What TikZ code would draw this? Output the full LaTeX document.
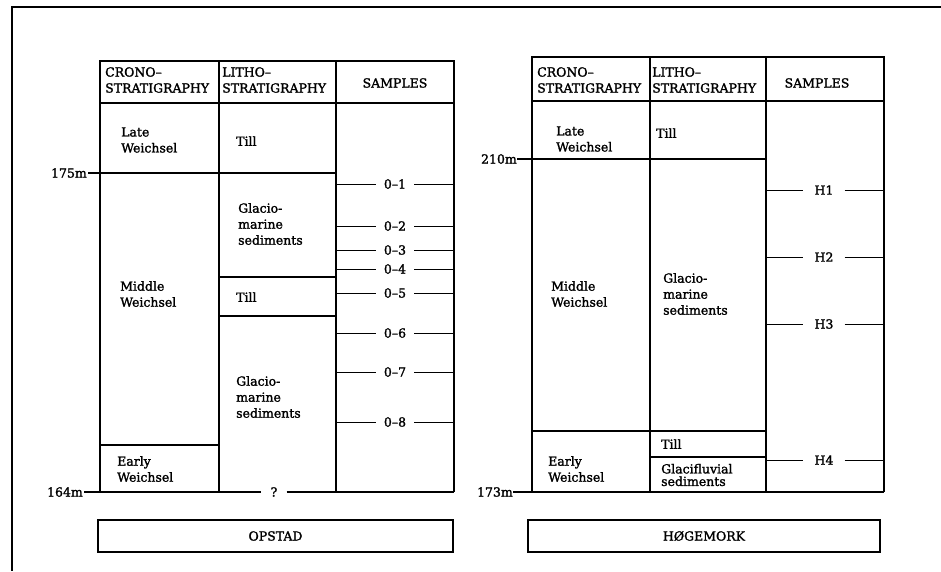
\documentclass[tikz,border=0pt]{standalone}
\usepackage{fontspec}
\setmainfont{DejaVu Serif}[BoldFont={DejaVu Serif},BoldFeatures={FakeBold=1.6}]
\usetikzlibrary{positioning}
\tikzstyle{frame} = [line width=1.6pt]
\tikzstyle{col} = [line width=1.9pt]
\tikzstyle{tick} = [line width=1pt]
\tikzstyle{lbl} = [anchor=west, align=left, inner sep=0pt]
\tikzstyle{smp} = [inner xsep=8pt, inner ysep=1pt]
\tikzstyle{depth} = [anchor=east, inner sep=1pt]
\tikzstyle{namebox} = [draw, line width=1.9pt, minimum height=32pt]

\begin{document}
\begin{tikzpicture}[x=1pt,y=-1pt,every node/.style={font=\fontsize{12.5}{16}\selectfont\bfseries}]
    \useasboundingbox (0,0) rectangle (941,571);
    \draw[frame] (941,7) -- (12,7) -- (12,571);

    % Opstad
    \draw[col] (100,61) rectangle (454,103);
    \draw[col] (100,103) -- (100,492) (219,103) -- (219,492)
        (336,61) -- (336,492) (454,103) -- (454,492) (219,61) -- (219,103);
    \draw[col] (219,277) -- (336,277) (219,316) -- (336,316)
        (100,445) -- (219,445);
    \node[depth] (d175) at (88,173) {175m};
    \draw[col] (d175.east) -- (336,173);
    \node[depth] (d164) at (84,492) {164m};
    \node[inner xsep=9pt] (q) at (274,492) {?};
    \draw[col] (d164.east) -- (q.west) (q.east) -- (454,492);
    \node[lbl] (oc) at (105,80) {CRONO--\\STRATIGRAPHY};
    \node[lbl] (ol) at (222,80) {LITHO--\\STRATIGRAPHY};
    \node (os) at (395,83) {SAMPLES};
    \node[lbl] (olate) at (121,140) {Late\\Weichsel};
    \node[lbl] (otill1) at (236,141) {Till};
    \node[lbl] (oglac1) at (238,224) {Glacio-\\marine\\sediments};
    \node[lbl] (omid) at (120,294) {Middle\\Weichsel};
    \node[lbl] (otill2) at (236,297) {Till};
    \node[lbl] (oglac2) at (236,397) {Glacio-\\marine\\sediments};
    \node[lbl] (oearly) at (117,469) {Early\\Weichsel};
    \foreach \n/\y in {1/184,2/226,3/250,4/269,5/293,6/333,7/372,8/422}{
        \node[smp] (o\n) at (395,\y) {0--\n};
        \draw[tick] (336,\y) -- (o\n.west) (o\n.east) -- (454,\y);
    }
    \node[namebox, minimum width=355pt] (opstad) at (275.5,536) {OPSTAD};

    % Hoegemork
    \draw[col] (532,57) rectangle (884,101);
    \draw[col] (532,101) -- (532,492) (650,101) -- (650,492)
        (766,57) -- (766,492) (884,101) -- (884,492) (650,57) -- (650,101);
    \draw[col] (532,431) -- (766,431) (650,457) -- (766,457);
    \node[depth, inner sep=0pt] (d210) at (517,159) {210m};
    \draw[col] (d210.east) -- (766,159);
    \node[depth, inner sep=0pt] (d173) at (513,492) {173m};
    \draw[col] (d173.east) -- (884,492);
    \node[lbl] (hc) at (537,80) {CRONO--\\STRATIGRAPHY};
    \node[lbl] (hl) at (652,80) {LITHO--\\STRATIGRAPHY};
    \node (hs) at (817,83) {SAMPLES};
    \node[lbl] (hlate) at (556,139) {Late\\Weichsel};
    \node[lbl] (htill1) at (656,133) {Till};
    \node[lbl] (hmid) at (551,294) {Middle\\Weichsel};
    \node[lbl] (hglac) at (663,294) {Glacio-\\marine\\sediments};
    \node[lbl] (htill2) at (661,444) {Till};
    \node[lbl, font=\fontsize{12.5}{12.5}\selectfont\bfseries] (hflu) at (661,475) {Glacifluvial\\sediments};
    \node[lbl] (hearly) at (548,469) {Early\\Weichsel};
    \foreach \n/\y in {1/190,2/257,3/324,4/460}{
        \node[smp, inner xsep=11pt] (h\n) at (824,\y) {H\n};
        \draw[tick] (766,\y) -- (h\n.west) (h\n.east) -- (884,\y);
    }
    \node[namebox, minimum width=352pt] (hoegemork) at (704,536) {HØGEMORK};
\end{tikzpicture}
\end{document}
